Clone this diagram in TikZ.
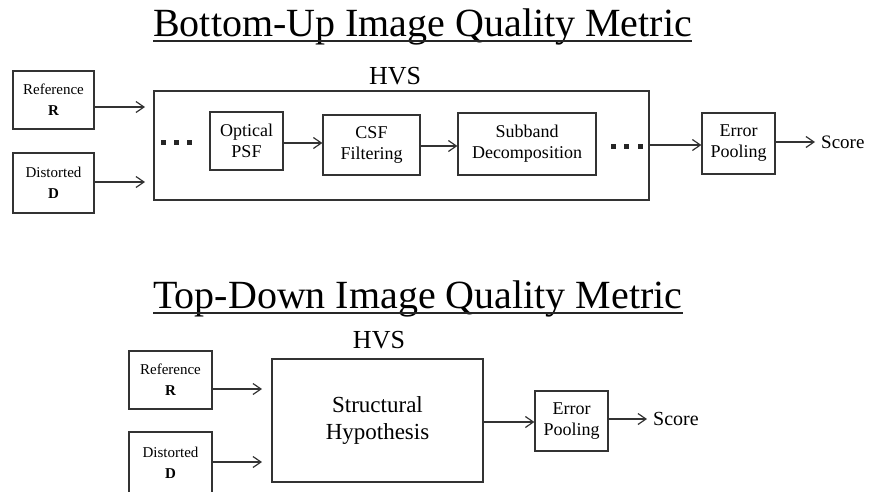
\documentclass[tikz,border=0pt]{standalone}
\usepackage{fontspec}
\setmainfont{Liberation Serif}
\usetikzlibrary{arrows.meta}
\begin{document}
\begin{tikzpicture}[x=1pt,y=-1pt,
  ln/.style={line width=1.2pt, draw=black!80},
  arr/.style={ln, -{Straight Barb[length=8pt,width=11pt,line width=1.2pt]}},
  box/.style={ln, rectangle, inner sep=0pt, align=center},
  small/.style={font=\fontsize{15}{21}\selectfont},
  mid/.style={font=\fontsize{18}{21}\selectfont},
  ttl/.style={font=\fontsize{40}{44}\selectfont, inner sep=0pt, anchor=base west},
  hvs/.style={font=\fontsize{26}{30}\selectfont, inner sep=0pt},
  scr/.style={font=\fontsize{19}{22}\selectfont, inner sep=0pt, anchor=west},
  dot/.style={fill=black!85, draw=none, minimum size=5pt, inner sep=0pt, rectangle}
]
\useasboundingbox (0,0) rectangle (869,491);
\clip (0,0) rectangle (869,491);

% ---------- Bottom-Up ----------
\node[ttl] (t1) at (153,36.5) {Bottom-Up Image Quality Metric};
\draw[line width=2pt, black!85] ([yshift=-4.5pt]t1.base west) -- ([yshift=-4.5pt]t1.base east);

\node[box, small, minimum width=81pt, minimum height=58pt] (refA) at (53.5,100) {Reference\\\textbf{R}};
\node[box, small, minimum width=81pt, minimum height=60pt] (disA) at (53.5,183) {Distorted\\\textbf{D}};
\node[box, minimum width=495pt, minimum height=109pt] (hvsA) at (401.5,145.5) {};
\node[hvs] (hvsAl) at (395,76) {HVS};
\node[box, mid, minimum width=73pt, minimum height=58pt] (psf) at (246.5,141) {Optical\\PSF};
\node[box, mid, minimum width=97pt, minimum height=60pt] (csf) at (371.5,145) {CSF\\Filtering};
\node[box, mid, minimum width=138pt, minimum height=62pt] (sub) at (527,144) {Subband\\Decomposition};
\node[box, mid, minimum width=73pt, minimum height=61pt] (errA) at (738.5,143.5) {Error\\Pooling};
\node[scr] (scoreA) at (821,142) {Score};

\node[dot] (dl1) at (163.5,142.5) {};
\node[dot] (dl2) at (176.5,142.5) {};
\node[dot] (dl3) at (189.5,142.5) {};
\node[dot] (dr1) at (613,146) {};
\node[dot] (dr2) at (626.5,146) {};
\node[dot] (dr3) at (640,146) {};

\coordinate (inR) at (145,107);
\coordinate (inD) at (145,182);
\draw[arr] (refA.east |- inR) -- (inR);
\draw[arr] (disA.east |- inD) -- (inD);
\coordinate (a1) at (0,143);
\draw[arr] (psf.east |- a1) -- (csf.west |- a1);
\coordinate (a2) at (0,146);
\draw[arr] (csf.east |- a2) -- (sub.west |- a2);
\coordinate (a3) at (0,145);
\draw[arr] (hvsA.east |- a3) -- (errA.west |- a3);
\draw[arr] (errA.east |- scoreA.west) -- ([xshift=-6pt]scoreA.west);

% ---------- Top-Down ----------
\node[ttl] (t2) at (153,308.5) {Top-Down Image Quality Metric};
\draw[line width=2pt, black!85] ([yshift=-4.5pt]t2.base west) -- ([yshift=-4.5pt]t2.base east);

\node[box, small, minimum width=83pt, minimum height=58pt] (refB) at (170.5,380) {Reference\\\textbf{R}};
\node[box, small, minimum width=83pt, minimum height=62pt] (disB) at (170.5,463) {Distorted\\\textbf{D}};
\node[box, font=\fontsize{23}{27}\selectfont, minimum width=211pt, minimum height=123pt] (hyp) at (377.5,420.5) {Structural\\Hypothesis};
\node[hvs] (hvsBl) at (379,340) {HVS};
\node[box, mid, minimum width=73pt, minimum height=60pt] (errB) at (571.5,421) {Error\\Pooling};
\node[scr, font=\fontsize{20}{22}\selectfont] (scoreB) at (653,419) {Score};

\coordinate (inRB) at (262,389);
\coordinate (inDB) at (262,462);
\draw[arr] (refB.east |- inRB) -- (inRB);
\draw[arr] (disB.east |- inDB) -- (inDB);
\coordinate (b1) at (0,422);
\draw[arr] (hyp.east |- b1) -- (errB.west |- b1);
\draw[arr] (errB.east |- scoreB.west) -- ([xshift=-6pt]scoreB.west);
\end{tikzpicture}
\end{document}
